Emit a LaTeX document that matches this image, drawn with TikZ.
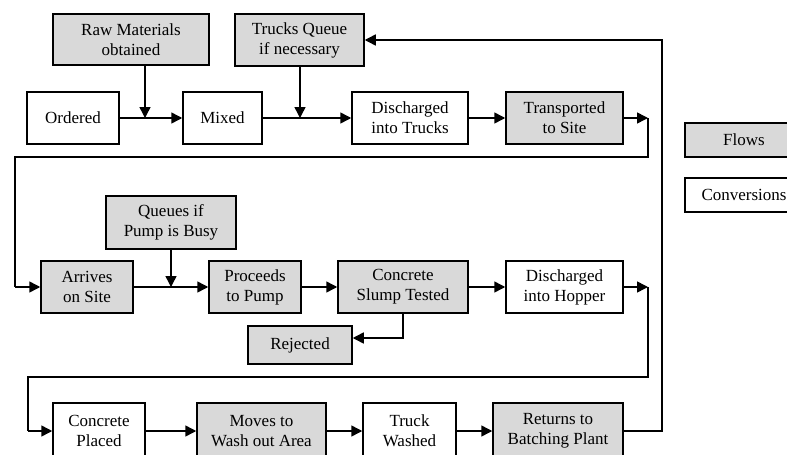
\documentclass[tikz,border=0pt]{standalone}
\usepackage{fontspec}
\setmainfont{Liberation Serif}
\usetikzlibrary{arrows.meta}
\definecolor{flowgray}{HTML}{D9D9D9}
\tikzset{
  box/.style={draw=black, line width=1.5pt, align=center, inner sep=0pt,
    font=\fontsize{17}{20}\selectfont},
  conv/.style={box, fill=white},
  flow/.style={box, fill=flowgray},
  arr/.style={line width=1.5pt, -{Triangle[length=11pt,width=11pt]}},
  ln/.style={line width=1.5pt},
}
\newcommand{\bx}[7]{% style, name, x1, y1, x2, y2, text
  \pgfmathsetmacro{\bxw}{#5-#3}%
  \pgfmathsetmacro{\bxh}{#6-#4}%
  \pgfmathsetmacro{\bxcx}{(#3+#5)/2}%
  \pgfmathsetmacro{\bxcy}{(#4+#6)/2}%
  \node[#1, minimum width=\bxw pt, minimum height=\bxh pt]
    (#2) at (\bxcx,\bxcy) {#7};}
\begin{document}
\begin{tikzpicture}[x=1pt,y=-1pt]
\useasboundingbox (0,0) rectangle (787,455);
\fill[white] (0,0) rectangle (787,455);
% top row
\bx{flow}{raw}{53}{14}{209}{65}{Raw Materials\\obtained}
\bx{flow}{tq}{235}{14}{364}{66}{Trucks Queue\\if necessary}
\bx{conv}{ord}{27}{92}{119}{144}{Ordered}
\bx{conv}{mix}{183}{92}{262}{144}{Mixed}
\bx{conv}{dtr}{352}{92}{468}{144}{Discharged\\into Trucks}
\bx{flow}{trs}{506}{92}{623}{144}{Transported\\to Site}
% legend
\bx{flow}{flows}{685}{123}{803}{157}{Flows}
\bx{conv}{convs}{685}{178}{803}{212}{Conversions}
% middle row
\bx{flow}{qpb}{106}{196}{236}{249}{Queues if\\Pump is Busy}
\bx{flow}{arv}{41}{261}{133}{313}{Arrives\\on Site}
\bx{flow}{pro}{209}{261}{301}{313}{Proceeds\\to Pump}
\bx{flow}{slu}{338}{261}{468}{313}{Concrete\\Slump Tested}
\bx{conv}{hop}{506}{261}{623}{313}{Discharged\\into Hopper}
\bx{flow}{rej}{248}{326}{352}{364}{Rejected}
% bottom row
\bx{conv}{cpl}{53}{403}{145}{459}{Concrete\\Placed}
\bx{flow}{mov}{197}{403}{326}{459}{Moves to\\Wash out Area}
\bx{conv}{trw}{363}{403}{456}{459}{Truck\\Washed}
\bx{flow}{ret}{493}{403}{623}{459}{Returns to\\Batching Plant}
% coordinates
\coordinate (j1) at (145,118);
\coordinate (j2) at (300,118);
\coordinate (c1) at (648,118);
\coordinate (c2) at (648,157);
\coordinate (c3) at (15,157);
\coordinate (c4) at (648,287);
\coordinate (c5) at (648,377);
\coordinate (c6) at (28,377);
\coordinate (r1) at (403,338);
\coordinate (c7) at (662,431);
\coordinate (c8) at (662,40);
% connectors top
\draw[arr] (ord.east) -- (mix.west);
\draw[arr] (raw.south -| j1) -- (j1);
\draw[arr] (mix.east) -- (dtr.west);
\draw[arr] (tq.south -| j2) -- (j2);
\draw[arr] (dtr.east) -- (trs.west);
\draw[arr] (trs.east) -- (c1);
\draw[ln] (c1) -- (c2) -- (c3) -- (c3 |- arv.west);
\draw[arr] (c3 |- arv.west) -- (arv.west);
% middle
\draw[arr] (arv.east) -- (pro.west);
\draw[arr] (qpb.south) -- (qpb.south |- arv.east);
\draw[arr] (pro.east) -- (slu.west);
\draw[arr] (slu.east) -- (hop.west);
\draw[arr] (slu.south) -- (r1) -- (r1 -| rej.east);
\draw[arr] (hop.east) -- (c4);
\draw[ln] (c4) -- (c5) -- (c6) -- (c6 |- cpl.west);
\draw[arr] (c6 |- cpl.west) -- (cpl.west);
% bottom
\draw[arr] (cpl.east) -- (mov.west);
\draw[arr] (mov.east) -- (trw.west);
\draw[arr] (trw.east) -- (ret.west);
\draw[arr] (ret.east) -- (ret.east -| c7) -- (c8) -- (tq.east);
\end{tikzpicture}
\end{document}
